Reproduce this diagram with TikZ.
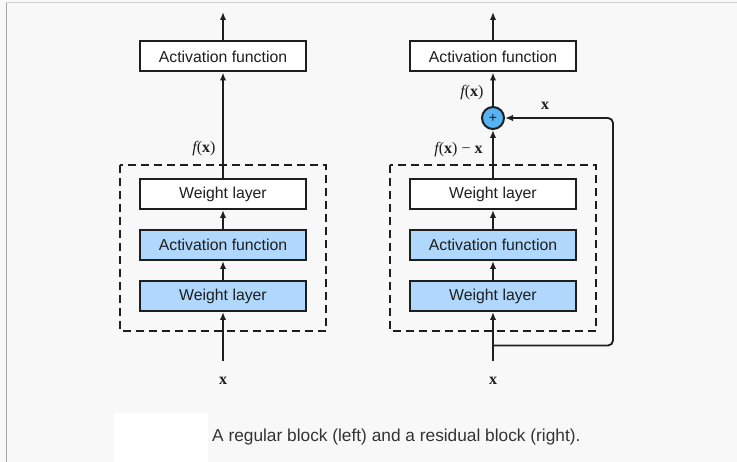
\documentclass[tikz,border=0pt]{standalone}
\usepackage{fontspec}
\newfontfamily\boxfont{Liberation Sans}
\newfontfamily\tms{Liberation Serif}
\usetikzlibrary{arrows.meta}
\definecolor{bg}{HTML}{F8F8F8}
\definecolor{boxblue}{HTML}{B0D8FC}
\definecolor{circblue}{HTML}{56B4F4}
\definecolor{ink}{HTML}{1E1E1E}
\definecolor{captxt}{HTML}{333333}
\newcommand{\fx}{{\itshape f}({\bfseries x})}
\newcommand{\bx}{{\bfseries x}}
\tikzset{
  blk/.style={draw=ink, line width=2pt, minimum width=166pt, minimum height=30pt, inner sep=0pt,
    font=\boxfont\fontsize{15.8}{18}\selectfont, text=ink},
  wblk/.style={blk, fill=white},
  bblk/.style={blk, fill=boxblue},
  conn/.style={draw=ink, line width=1.8pt, -{Latex[length=8pt,width=6.5pt]}},
  lbl/.style={font=\tms\fontsize{16}{18}\selectfont, text=ink, inner sep=0pt},
  dashbox/.style={draw=ink, line width=2pt, dash pattern=on 8pt off 5pt},
}
\begin{document}
\begin{tikzpicture}[x=1pt,y=-1pt]
\path[use as bounding box, fill=bg] (0,0) rectangle (737,462);
\fill[white] (114,413) rectangle (208,462);
\draw[draw=black!18, line width=1pt] (6,3) -- (737,3);
\draw[draw=black!35, line width=1pt] (6,3) -- (6,462);

% ---------- left: regular block ----------
\draw[dashbox] (119.5,165.5) rectangle (325.5,331.5);
\node[wblk] (Ltop) at (223,56.5) {Activation function};
\node[wblk] (Lw2) at (223,194) {Weight layer};
\node[bblk] (Lact) at (223,245) {Activation function};
\node[bblk] (Lw1) at (223,296) {Weight layer};
\coordinate (Lin) at (223,361);
\coordinate (Lout) at (223,12);
\draw[conn] (Lin) -- (Lw1.south);
\draw[conn] (Lw1.north) -- (Lact.south);
\draw[conn] (Lact.north) -- (Lw2.south);
\draw[conn] (Lw2.north) -- (Ltop.south);
\draw[conn] (Ltop.north) -- (Lout);
\node[lbl] (Lfx) at (204,149) {\fx};
\node[lbl] (Lx) at (223,381) {\bx};

% ---------- right: residual block ----------
\draw[dashbox] (389.5,165.5) rectangle (595.5,331.5);
\node[wblk] (Rtop) at (493,56.5) {Activation function};
\node[wblk] (Rw2) at (493,194) {Weight layer};
\node[bblk] (Ract) at (493,245) {Activation function};
\node[bblk] (Rw1) at (493,296) {Weight layer};
\node[circle, draw=ink, line width=2pt, fill=circblue, minimum size=22pt, inner sep=0pt,
  font=\boxfont\fontsize{14}{14}\selectfont, text=ink] (plus) at (493,118) {+};
\coordinate (Rin) at (493,361);
\coordinate (Rsplit) at (493,345.5);
\coordinate (Rout) at (493,12);
\draw[conn] (Rin) -- (Rw1.south);
\draw[conn] (Rw1.north) -- (Ract.south);
\draw[conn] (Ract.north) -- (Rw2.south);
\draw[conn] (Rw2.north) -- (plus.south);
\draw[conn] (plus.north) -- (Rtop.south);
\draw[conn] (Rtop.north) -- (Rout);
\draw[conn, rounded corners=5pt] (Rsplit) -- (613,345.5) -- (613,118) -- (plus.east);
\node[lbl] (Rfx) at (472,93) {\fx};
\node[lbl] (Rfxx) at (458.5,150) {\fx\ − \bx};
\node[lbl] (Rskip) at (545,106) {\bx};
\node[lbl] (Rx) at (493,381) {\bx};

% ---------- caption ----------
\node[anchor=west, inner sep=0pt, text=captxt, font=\boxfont\fontsize{17.3}{20}\selectfont] (cap) at (212,437)
  {A regular block (left) and a residual block (right).};
\end{tikzpicture}
\end{document}
